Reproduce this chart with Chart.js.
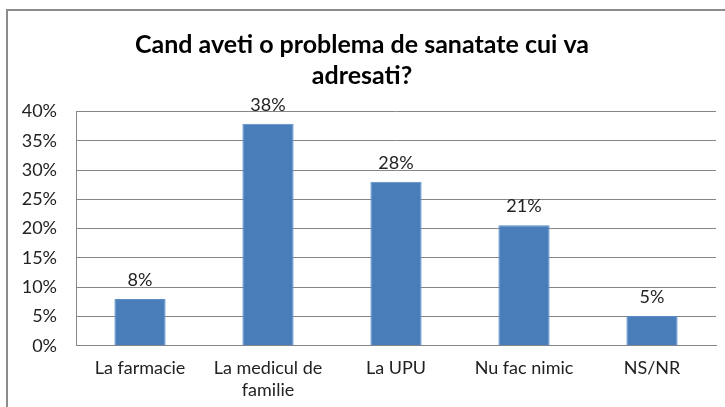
<!DOCTYPE html>
<html>
<head>
<meta charset="utf-8">
<script src="https://cdn.jsdelivr.net/npm/chart.js@4/dist/chart.umd.min.js"></script>
<style>
  html, body { margin: 0; padding: 0; background: #fff; overflow: hidden; }
  #frame { position: absolute; left: 6px; top: 9px; width: 760px; height: 440px; border: 2px solid #8c8c8c; }
  #wrap { position: absolute; left: 8px; top: 11px; width: 717px; height: 408px; }
</style>
</head>
<body>
<div id="frame"></div>
<div id="wrap"><canvas id="c"></canvas></div>
<script>
const categories = ["La farmacie", ["La medicul de", "familie"], "La UPU", "Nu fac nimic", "NS/NR"];
const values = [8, 37.9, 28, 20.6, 5.1];
const yTicks = [0, 5, 10, 15, 20, 25, 30, 35, 40];
const titleLines = ["Cand aveti o problema de sanatate cui va", "adresati?"];

const FONT = "Lato, 'Open Sans', sans-serif";

const valueLabels = {
  id: 'valueLabels',
  afterDatasetsDraw(chart) {
    const ctx = chart.ctx;
    const meta = chart.getDatasetMeta(0);
    ctx.save();
    ctx.font = "18px " + FONT;
    ctx.fillStyle = "#222";
    ctx.textAlign = "center";
    ctx.textBaseline = "middle";
    meta.data.forEach((bar, i) => {
      ctx.fillText(Math.round(values[i]) + "%", bar.x, bar.y - 19);
    });
    ctx.restore();
  }
};

new Chart(document.getElementById('c'), {
  type: 'bar',
  data: {
    labels: categories,
    datasets: [{
      data: values,
      backgroundColor: '#4a7ebb',
      borderColor: '#5b8cc6',
      borderWidth: 1,
      barPercentage: 0.8,
      categoryPercentage: 0.5
    }]
  },
  options: {
    responsive: true,
    maintainAspectRatio: false,
    animation: false,
    layout: { padding: { left: 0, right: 9, top: 0, bottom: 6 } },
    plugins: {
      legend: { display: false },
      tooltip: { enabled: false },
      title: {
        display: true,
        text: titleLines,
        color: '#000',
        font: { family: FONT, size: 25, weight: 'bold', lineHeight: 1.25 },
        padding: { top: 18, bottom: 20 }
      }
    },
    scales: {
      x: {
        grid: { display: false, drawTicks: false },
        border: { color: '#868686', width: 1 },
        ticks: { color: '#222', font: { family: FONT, size: 18, lineHeight: 1.2 }, padding: 12, maxRotation: 0, autoSkip: false }
      },
      y: {
        min: 0,
        max: 40,
        afterBuildTicks(scale) { scale.ticks = yTicks.map(v => ({ value: v })); },
        afterFit(scale) { scale.width = 68; },
        grid: { color: '#868686', drawTicks: false },
        border: { color: '#868686', width: 1 },
        ticks: { color: '#222', font: { family: FONT, size: 18 }, padding: 19, callback: v => v + "%" }
      }
    }
  },
  plugins: [valueLabels]
});
</script>
</body>
</html>
